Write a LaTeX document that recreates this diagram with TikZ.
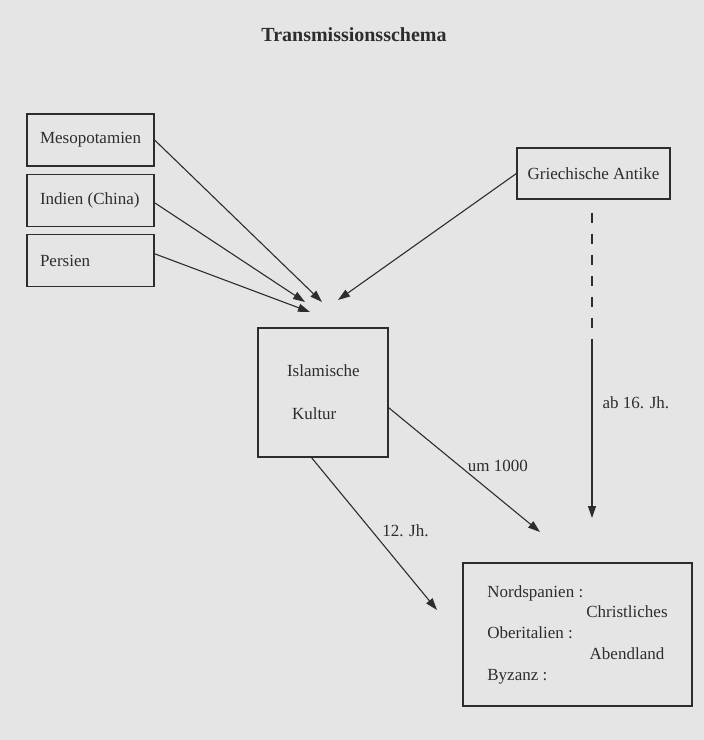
\documentclass[tikz,border=0pt]{standalone}
\usepackage{fontspec}
\setmainfont{Liberation Serif}
\usetikzlibrary{arrows.meta}
\definecolor{paper}{RGB}{229,229,229}
\definecolor{ink}{RGB}{45,45,45}

\begin{document}
\begin{tikzpicture}[x=1pt, y=-1pt, >={Triangle[length=12pt,width=8pt]},
        every node/.style={font=\fontsize{17}{20.7}\selectfont, text=ink},
        box/.style={draw=ink, line width=1.2pt, inner sep=0pt},
        quelle/.style={box, minimum width=127pt, minimum height=52pt},
        pfeil/.style={draw=ink, line width=1.1pt},
        zeit/.style={inner sep=0pt}]
        \fill[paper] (0,0) rectangle (704,740);
        \useasboundingbox (0,0) rectangle (704,740);
        \path (354,35) node[font=\bfseries\fontsize{20}{24}\selectfont](title) {Transmissionsschema}
            (90.5,140) node[quelle](meso) {\makebox[101pt][l]{Mesopotamien}}
            (90.5,200.5) node[quelle](indien) {\makebox[101pt][l]{Indien (China)}}
            (90.5,260.5) node[quelle](persien) {\makebox[101pt][l]{Persien}}
            (593.5,173.5) node[box, minimum width=153pt, minimum height=51pt](griech) {Griechische Antike}
            (323,392.5) node[box, text width=72pt, inner xsep=29pt, align=left, minimum height=129pt](islam) {Islamische\\[22.3pt]\hspace*{5pt}Kultur}
            (577.5,634.5) node[box, minimum width=229pt, minimum height=143pt](abend) {\begin{tabular}{@{}p{99pt}@{}c@{}}
                Nordspanien : & \\
                & Christliches \\
                Oberitalien : & \\
                & Abendland \\
                Byzanz : &
            \end{tabular}};
        \coordinate (zmeso) at (322,302);
        \coordinate (zindien) at (305,302);
        \coordinate (zpersien) at (310,312);
        \coordinate (zgriech) at (338,300);
        \coordinate (wechsel) at (592,340);
        \coordinate (z16) at (592,518);
        \coordinate (z1000) at (540,532);
        \coordinate (z12) at (437,610);
        \draw[pfeil, ->] (meso.east) -- (zmeso);
        \draw[pfeil, ->] (indien.-2) -- (zindien);
        \draw[pfeil, ->] (persien.6) -- (zpersien);
        \draw[pfeil, ->] (griech.west) -- (zgriech);
        \draw[pfeil, dash pattern=on 10pt off 11pt] ([xshift=-1.5pt, yshift=-13pt]griech.south) -- (wechsel);
        \draw[pfeil, ->] (wechsel) -- node[zeit, pos=0.354, right=10pt] {ab 16. Jh.} (z16);
        \draw[pfeil, ->] (islam.-13) -- node[zeit, pos=0.52, anchor=south west] {um 1000} (z1000);
        \draw[pfeil, ->] (islam.-100) -- node[zeit, pos=0.48, right=10pt] {12. Jh.} (z12);
    \end{tikzpicture}
\end{document}
